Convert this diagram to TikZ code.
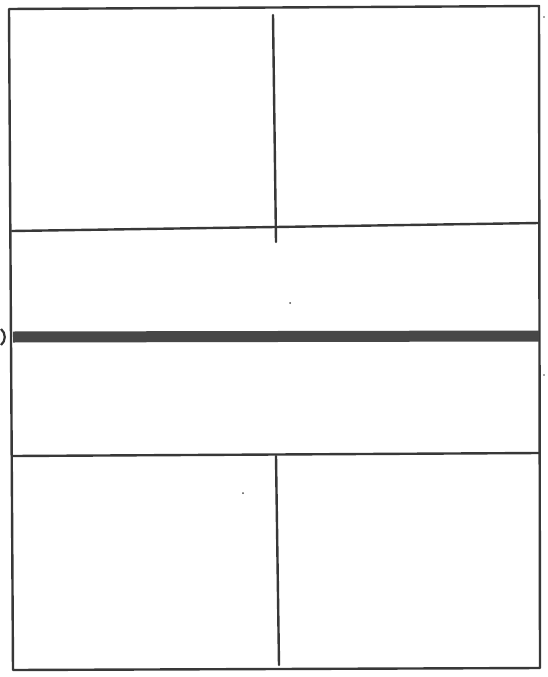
\documentclass[tikz,border=0pt]{standalone}
\begin{document}
\begin{tikzpicture}[x=1pt,y=-1pt,
  pen/.style={draw=black!78,line width=2.4pt,line cap=round,line join=round},
  heavy/.style={draw=black!72,line width=11pt},
  speck/.style={fill=black!70}]
\useasboundingbox (0,0) rectangle (547,677);
\fill[white] (0,0) rectangle (547,677);
% outer frame corners
\coordinate (tl) at (9,9);
\coordinate (tr) at (539,6);
\coordinate (br) at (540,668);
\coordinate (bl) at (13,670);
% dividing lines
\coordinate (h1l) at (12,231);
\coordinate (h1r) at (539,223);
\coordinate (h2l) at (13,337);
\coordinate (h2r) at (539,336);
\coordinate (h3l) at (13,456);
\coordinate (h3r) at (539,453);
\coordinate (v1t) at (273,15);
\coordinate (v1b) at (276,242);
\coordinate (v2t) at (276,456);
\coordinate (v2b) at (279,665);
\draw[pen] (tl) -- (tr) -- (br) -- (bl) -- cycle;
\draw[pen] (h1l) -- (h1r);
\draw[heavy] (h2l) -- (h2r);
\draw[pen] (h3l) -- (h3r);
\draw[pen] (v1t) -- (v1b);
\draw[pen] (v2t) -- (v2b);
% small sketch marks
\coordinate (a1) at (1,329);
\coordinate (a2) at (1,345);
\draw[draw=black!80,line width=2.2pt] (a1) .. controls (6,333) and (6,341) .. (a2);
\fill[speck] (290,303) circle (1pt);
\fill[speck] (243,493) circle (1pt);
\fill[speck] (544,375) circle (0.8pt);
\fill[speck] (544,17) circle (0.8pt);
\end{tikzpicture}
\end{document}
